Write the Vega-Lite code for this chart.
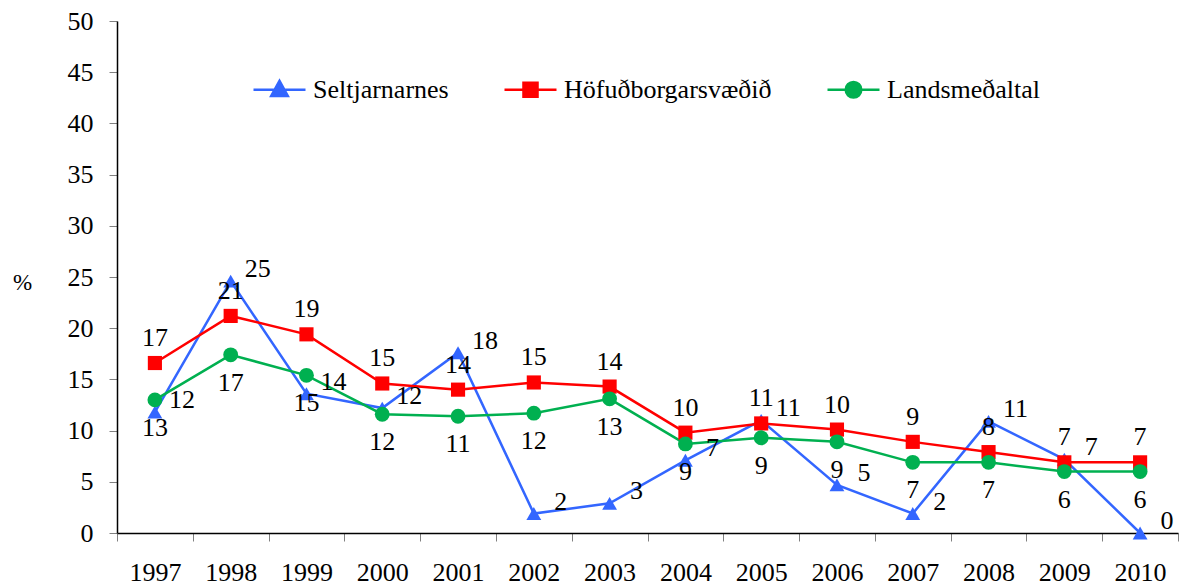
{
  "$schema": "https://vega.github.io/schema/vega-lite/v6.json",
  "width": 1061,
  "height": 512,
  "autosize": "none",
  "padding": {"left": 117, "top": 21, "right": 11, "bottom": 53},
  "background": "white",
  "config": {"view": {"stroke": null}, "font": "Liberation Serif, Times New Roman, serif"},
  "data": {"values": [
    {"year": "1997", "series": "Seltjarnarnes", "value": 11.8},
    {"year": "1998", "series": "Seltjarnarnes", "value": 24.6},
    {"year": "1999", "series": "Seltjarnarnes", "value": 13.6},
    {"year": "2000", "series": "Seltjarnarnes", "value": 12.2},
    {"year": "2001", "series": "Seltjarnarnes", "value": 17.6},
    {"year": "2002", "series": "Seltjarnarnes", "value": 1.9},
    {"year": "2003", "series": "Seltjarnarnes", "value": 2.9},
    {"year": "2004", "series": "Seltjarnarnes", "value": 7.1},
    {"year": "2005", "series": "Seltjarnarnes", "value": 11.0},
    {"year": "2006", "series": "Seltjarnarnes", "value": 4.7},
    {"year": "2007", "series": "Seltjarnarnes", "value": 1.9},
    {"year": "2008", "series": "Seltjarnarnes", "value": 10.9},
    {"year": "2009", "series": "Seltjarnarnes", "value": 7.2},
    {"year": "2010", "series": "Seltjarnarnes", "value": 0},
    {"year": "1997", "series": "Höfuðborgarsvæðið", "value": 16.6},
    {"year": "1998", "series": "Höfuðborgarsvæðið", "value": 21.2},
    {"year": "1999", "series": "Höfuðborgarsvæðið", "value": 19.4},
    {"year": "2000", "series": "Höfuðborgarsvæðið", "value": 14.6},
    {"year": "2001", "series": "Höfuðborgarsvæðið", "value": 14.0},
    {"year": "2002", "series": "Höfuðborgarsvæðið", "value": 14.7},
    {"year": "2003", "series": "Höfuðborgarsvæðið", "value": 14.3},
    {"year": "2004", "series": "Höfuðborgarsvæðið", "value": 9.8},
    {"year": "2005", "series": "Höfuðborgarsvæðið", "value": 10.7},
    {"year": "2006", "series": "Höfuðborgarsvæðið", "value": 10.1},
    {"year": "2007", "series": "Höfuðborgarsvæðið", "value": 8.9},
    {"year": "2008", "series": "Höfuðborgarsvæðið", "value": 7.9},
    {"year": "2009", "series": "Höfuðborgarsvæðið", "value": 6.9},
    {"year": "2010", "series": "Höfuðborgarsvæðið", "value": 6.9},
    {"year": "1997", "series": "Landsmeðaltal", "value": 13.0},
    {"year": "1998", "series": "Landsmeðaltal", "value": 17.4},
    {"year": "1999", "series": "Landsmeðaltal", "value": 15.4},
    {"year": "2000", "series": "Landsmeðaltal", "value": 11.6},
    {"year": "2001", "series": "Landsmeðaltal", "value": 11.4},
    {"year": "2002", "series": "Landsmeðaltal", "value": 11.7},
    {"year": "2003", "series": "Landsmeðaltal", "value": 13.1},
    {"year": "2004", "series": "Landsmeðaltal", "value": 8.7},
    {"year": "2005", "series": "Landsmeðaltal", "value": 9.3},
    {"year": "2006", "series": "Landsmeðaltal", "value": 8.9},
    {"year": "2007", "series": "Landsmeðaltal", "value": 6.9},
    {"year": "2008", "series": "Landsmeðaltal", "value": 6.9},
    {"year": "2009", "series": "Landsmeðaltal", "value": 6.0},
    {"year": "2010", "series": "Landsmeðaltal", "value": 6.0}
  ]},
  "encoding": {
    "x": {
      "field": "year", "type": "ordinal",
      "scale": {"type": "band", "paddingInner": 0, "paddingOuter": 0},
      "axis": {
        "title": null, "labelAngle": 0, "labelFontSize": 26, "labelColor": "black",
        "tickBand": "extent", "tickSize": 8,
        "tickColor": "#808080", "domainColor": "black", "domainWidth": 1.5, "labelPadding": 18, "grid": false
      }
    },
    "y": {
      "field": "value", "type": "quantitative",
      "scale": {"domain": [0, 50], "nice": false},
      "axis": {
        "values": [0, 5, 10, 15, 20, 25, 30, 35, 40, 45, 50],
        "grid": false, "labelFontSize": 26, "labelColor": "black",
        "tickSize": 8, "tickColor": "#808080", "domainColor": "black", "domainWidth": 1.5, "labelPadding": 16,
        "title": "%", "titleAngle": 0, "titleX": -95, "titleY": 261, "titleAlign": "center",
        "titleBaseline": "middle", "titleFontSize": 23, "titleFontWeight": "normal", "titleColor": "black"
      }
    },
    "color": {
      "field": "series", "type": "nominal",
      "scale": {"domain": ["Seltjarnarnes", "Höfuðborgarsvæðið", "Landsmeðaltal"], "range": ["#3366FF", "#FF0000", "#00B050"]},
      "legend": {
        "orient": "none", "legendX": 135, "legendY": 41, "direction": "horizontal",
        "title": null, "labelFontSize": 26, "labelColor": "black",
        "symbolSize": 2704, "symbolStrokeWidth": 2.5, "columnPadding": 50, "labelOffset": 6, "labelLimit": 400,
        "encode": {
          "symbols": {
            "update": {
              "shape": {"signal": "datum.value === 'Seltjarnarnes' ? 'M-1,0H1M0,-0.34L0.32,0.24L-0.32,0.24Z' : datum.value === 'Landsmeðaltal' ? 'M-1,0H1M-0.3,0A0.3,0.3 0 1,0 0.3,0A0.3,0.3 0 1,0 -0.3,0Z' : 'M-1,0H1M-0.27,-0.27H0.27V0.27H-0.27Z'"},
              "fill": {"scale": "color", "field": "value"},
              "stroke": {"scale": "color", "field": "value"},
              "opacity": {"value": 1},
              "fillOpacity": {"value": 1},
              "strokeWidth": {"value": 2.5}
            }
          }
        }
      }
    }
  },
  "layer": [
    {"mark": {"type": "line", "strokeWidth": 2.5}},
    {
      "transform": [{"filter": "datum.series === 'Seltjarnarnes'"}],
      "mark": {"type": "point", "filled": true, "opacity": 1, "size": 220, "shape": "triangle-up"}
    },
    {
      "transform": [{"filter": "datum.series === 'Höfuðborgarsvæðið'"}],
      "mark": {"type": "point", "filled": true, "opacity": 1, "size": 200, "shape": "square"}
    },
    {
      "transform": [{"filter": "datum.series === 'Landsmeðaltal'"}],
      "mark": {"type": "point", "filled": true, "opacity": 1, "size": 220, "shape": "circle"}
    },
    {
      "transform": [{"filter": "datum.series === 'Höfuðborgarsvæðið'"}],
      "mark": {"type": "text", "fontSize": 26, "dy": -25},
      "encoding": {"text": {"field": "value", "type": "quantitative", "format": ".0f"}, "color": {"value": "black"}}
    },
    {
      "transform": [{"filter": "datum.series === 'Landsmeðaltal'"}],
      "mark": {"type": "text", "fontSize": 26, "dy": 28},
      "encoding": {"text": {"field": "value", "type": "quantitative", "format": ".0f"}, "color": {"value": "black"}}
    },
    {
      "transform": [{"filter": "datum.series === 'Seltjarnarnes'"}],
      "mark": {"type": "text", "fontSize": 26, "dx": 27, "dy": -12},
      "encoding": {"text": {"field": "value", "type": "quantitative", "format": ".0f"}, "color": {"value": "black"}}
    }
  ]
}
